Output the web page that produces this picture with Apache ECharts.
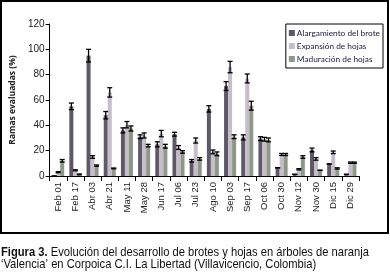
<!DOCTYPE html>
<html>
<head>
<meta charset="utf-8">
<script src="https://cdn.jsdelivr.net/npm/echarts@6/dist/echarts.min.js"></script>
<style>
  html, body { margin: 0; padding: 0; background: #fff; }
  #chart { width: 390px; height: 278px; }
</style>
</head>
<body>
<div id="chart"></div>
<script>
// fechas de muestreo
var fechas = ['Feb 01','Feb 17','Abr 03','Abr 21','May 11','May 28','Jun 17','Jul 06','Jul 23',
              'Ago 10','Sep 03','Sep 17','Oct 06','Oct 30','Nov 12','Nov 30','Dic 15','Dic 29'];

var nombres = ['Alargamiento del brote','Expansión de hojas','Maduración de hojas'];

// valores (%)
var alargamiento = [0, 55, 95, 48, 36, 31, 25, 33, 12, 53, 71, 30.5, 29.5, 6.5, 1.3, 20.5, 9.5, 1.3];
var expansion    = [3, 4.5, 15, 66, 40.5, 32, 33.5, 22.5, 28, 19, 86, 77, 29, 17, 5.3, 13.5, 18.7, 10.5];
var maduracion   = [12, 1.3, 8.2, 6, 37.5, 24, 23.5, 19, 13.5, 17.5, 31, 55.5, 28.5, 17, 15, 4.5, 6, 10.5];

// barras de error (+/-)
var errAlarg = [0, 2.6, 5, 2.9, 2, 1.5, 2, 1.5, 1, 2.5, 3.5, 2, 1.5, 0, 0, 1.5, 0, 0];
var errExp   = [0.4, 0.4, 1, 3.7, 2.5, 2, 2.5, 1.5, 2, 1.5, 4.5, 3.5, 1.5, 0.8, 0.5, 1, 1, 0.5];
var errMad   = [1, 0.3, 0.5, 0.3, 2, 1, 1.5, 1, 1, 1.5, 1.5, 3.5, 1.5, 0.8, 1, 0, 0.5, 0.5];

var colores = ['#5e5867', '#c6bdca', '#8d9889'];
var catGap = 0.3;

var myChart = echarts.init(document.getElementById('chart'));

function errData(vals, errs){
	var d = [];
	for (var i = 0; i < vals.length; i++) {
		d.push([i, vals[i], errs[i]]);
	}
	return d;
}

function errRender(pos){
	return function(params, api){
		var i = api.value(0);
		var v = api.value(1);
		var e = api.value(2);
		var band = api.size([1, 0])[0];
		var bw = band * (1 - catGap) / 3;
		var c = api.coord([i, v]);
		var x = c[0] + (pos - 1) * bw;
		var top = api.coord([i, v + e])[1];
		var bot = api.coord([i, v - e])[1];
		var h = 2.5;
		var st = { stroke: '#000', lineWidth: 1.3 };
		return {
			type: 'group',
			children: [
				{ type: 'line', shape: { x1: x, y1: top, x2: x, y2: bot }, style: st },
				{ type: 'line', shape: { x1: x - h, y1: top, x2: x + h, y2: top }, style: st },
				{ type: 'line', shape: { x1: x - h, y1: bot, x2: x + h, y2: bot }, style: st }
			]
		};
	};
}

var valores = [alargamiento, expansion, maduracion];
var errores = [errAlarg, errExp, errMad];

var series = [];
for (var s = 0; s < 3; s++) {
	series.push({
		name: nombres[s],
		type: 'bar',
		data: valores[s],
		barGap: '0%',
		barCategoryGap: (catGap * 100) + '%',
		itemStyle: { color: colores[s] },
		z: 2
	});
}
for (var s = 0; s < 3; s++) {
	series.push({
		type: 'custom',
		renderItem: errRender(s),
		data: errData(valores[s], errores[s]),
		encode: { x: 0, y: 1 },
		z: 5,
		silent: true
	});
}

var option = {
	animation: false,
	backgroundColor: '#fff',
	grid: { left: 48, right: 31, top: 24, bottom: 102 },
	legend: {
		data: nombres,
		orient: 'vertical',
		right: 7,
		top: 24,
		itemWidth: 6,
		itemHeight: 6,
		itemGap: 5,
		icon: 'rect',
		textStyle: { fontFamily: 'Lato', fontSize: 8.3, color: '#1c1c3a', padding: [0, 0, 0, -3] },
		padding: [5, 3, 5, 3],
		borderColor: '#000',
		borderWidth: 1
	},
	xAxis: {
		type: 'category',
		data: fechas,
		axisLine: { lineStyle: { color: '#000', width: 1 } },
		axisTick: { show: true, length: 5, lineStyle: { color: '#000' } },
		axisLabel: {
			interval: 0,
			rotate: 90,
			margin: 6,
			fontFamily: 'Liberation Sans',
			fontSize: 9.5,
			color: '#222'
		}
	},
	yAxis: {
		type: 'value',
		min: 0,
		max: 120,
		interval: 20,
		name: 'Ramas evaluadas (%)',
		nameLocation: 'middle',
		nameGap: 24,
		nameTextStyle: { fontFamily: 'Open Sans', fontSize: 8.5, fontWeight: 'bold', color: '#222' },
		axisLine: { show: true, lineStyle: { color: '#000', width: 1 } },
		axisTick: { show: true, length: 4, lineStyle: { color: '#000' } },
		splitLine: { show: false },
		axisLabel: { fontFamily: 'Liberation Sans', fontSize: 10, color: '#222', margin: 5 }
	},
	graphic: [
		{
			type: 'rect',
			shape: { x: 1, y: 1, width: 387, height: 232 },
			style: { fill: 'none', stroke: '#000', lineWidth: 2 },
			silent: true
		},
		{
			type: 'text',
			x: 1,
			y: 246,
			scaleX: 0.86,
			style: {
				text: '{b|Figura 3.} Evolución del desarrollo de brotes y hojas en árboles de naranja\n‘Valencia’ en Corpoica C.I. La Libertad (Villavicencio, Colombia)',
				fontFamily: 'Liberation Sans',
				fontSize: 13,
				lineHeight: 12,
				fill: '#111',
				rich: {
					b: { fontFamily: 'Liberation Sans', fontSize: 13, fontWeight: 'bold', fill: '#111' }
				}
			}
		}
	],
	series: series
};

myChart.setOption(option);
</script>
</body>
</html>
